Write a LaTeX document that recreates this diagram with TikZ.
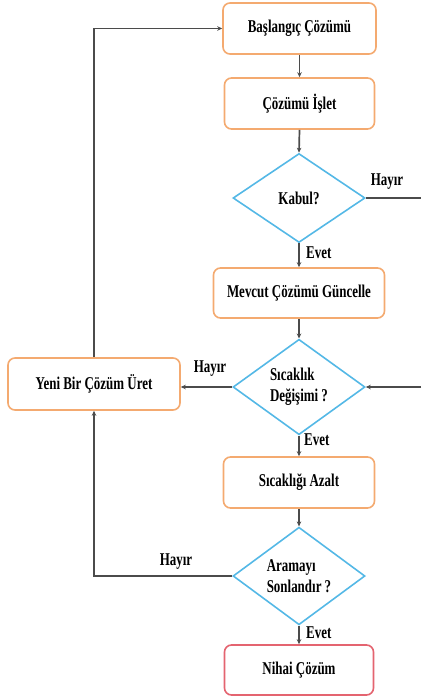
\documentclass[tikz,border=0pt]{standalone}
\usepackage{fontspec}
\setmainfont{Liberation Serif}[FakeStretch=0.72]
\usetikzlibrary{shapes.geometric,arrows.meta}
\definecolor{boxor}{RGB}{244,170,112}
\definecolor{dblue}{RGB}{84,184,230}
\definecolor{nred}{RGB}{228,100,112}
\definecolor{lgray}{RGB}{75,75,75}
\tikzset{
  every node/.style={font=\fontsize{18}{21}\selectfont\bfseries, text=black},
  procbox/.style={draw=boxor, line width=1.6pt, rounded corners=7pt, fill=white, inner sep=0pt},
  endbox/.style={draw=nred, line width=1.6pt, rounded corners=7pt, fill=white, inner sep=0pt},
  decbox/.style={draw=dblue, shape=diamond, line width=1.6pt, inner sep=0pt, minimum width=132pt, minimum height=89pt, align=left},
  conn/.style={draw=lgray, line width=1.7pt},
  arr/.style={conn, -{Stealth[length=5pt,width=4.5pt]}},
  lbl/.style={inner sep=0pt}
}
\begin{document}
\begin{tikzpicture}[x=1pt,y=-1pt]
\useasboundingbox (0,0) rectangle (421,698);
\node[procbox, minimum width=153pt, minimum height=51pt] (bas) at (299.5,28.5) {Başlangıç Çözümü};
\node[procbox, minimum width=150pt, minimum height=51pt] (isl) at (299.5,103.5) {Çözümü İşlet};
\node[decbox] (kab) at (299,198) {Kabul?};
\node[procbox, minimum width=171pt, minimum height=50pt] (mev) at (299,293) {Mevcut Çözümü Güncelle};
\node[decbox] (sic) at (299,387) {Sıcaklık\\Değişimi ?};
\node[procbox, minimum width=172pt, minimum height=52pt] (yen) at (94,384) {Yeni Bir Çözüm Üret};
\node[procbox, minimum width=151pt, minimum height=51pt] (aza) at (299,482.5) {Sıcaklığı Azalt};
\node[decbox] (ara) at (299,576) {Aramayı\\Sonlandır ?};
\node[endbox, minimum width=149pt, minimum height=50pt] (nih) at (299,670) {Nihai Çözüm};
\coordinate (rk) at (421,198);
\coordinate (rs) at (421,387);
% vertical flow
\draw[arr] (bas.south) -- (isl.north);
\draw[arr] (isl.south) -- (kab.north);
\draw[arr] (kab.south) -- (mev.north);
\draw[arr] (mev.south) -- (sic.north);
\draw[arr] (sic.south) -- (aza.north);
\draw[arr] (aza.south) -- (ara.north);
\draw[arr] (ara.south) -- (nih.north);
% side paths
\draw[conn] (kab.east) -- (rk);
\draw[arr] (rs) -- (sic.east);
\draw[arr] (sic.west) -- (sic.west -| yen.east);
\draw[arr] (yen.north) |- (bas.west);
\draw[arr] (ara.west) -| (yen.south);
% labels
\node[lbl] (h1) at (387,182) {Hayır};
\node[lbl] (h2) at (210,369) {Hayır};
\node[lbl] (h3) at (176,562) {Hayır};
\node[lbl, anchor=west] (e1) at (306,253) {Evet};
\node[lbl, anchor=west] (e2) at (304,440) {Evet};
\node[lbl, anchor=west] (e3) at (306,633) {Evet};
\end{tikzpicture}
\end{document}
